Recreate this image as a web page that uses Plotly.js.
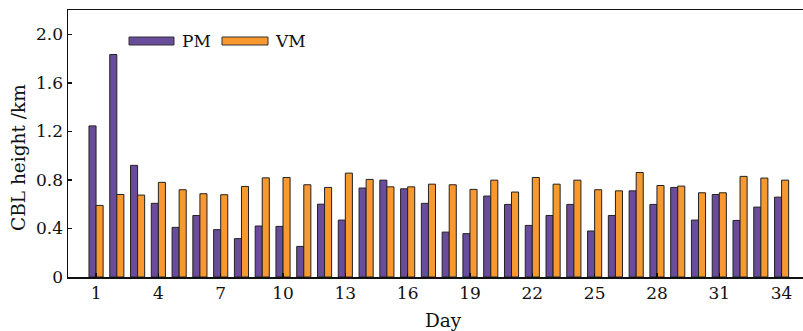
<!DOCTYPE html>
<html>
<head>
<meta charset="utf-8">
<script src="https://cdn.plot.ly/plotly-3.0.1.min.js"></script>
<style>html,body{margin:0;padding:0;background:#fff;}#chart{width:803px;height:331px;}</style>
</head>
<body>
<div id="chart"></div>
<script>
const days = Array.from({length: 34}, (_, i) => i + 1);
const pmValues = [1.245, 1.833, 0.92, 0.607, 0.409, 0.507, 0.39, 0.316, 0.42, 0.417,
  0.252, 0.60, 0.469, 0.733, 0.798, 0.727, 0.607, 0.37, 0.357, 0.667,
  0.598, 0.425, 0.507, 0.598, 0.379, 0.507, 0.71, 0.598, 0.738, 0.469,
  0.68, 0.466, 0.576, 0.658];
const vmValues = [0.59, 0.68, 0.675, 0.78, 0.719, 0.686, 0.678, 0.746, 0.817, 0.82,
  0.76, 0.738, 0.856, 0.804, 0.743, 0.743, 0.765, 0.76, 0.722, 0.798,
  0.70, 0.82, 0.765, 0.798, 0.719, 0.71, 0.861, 0.754, 0.749, 0.694,
  0.694, 0.829, 0.815, 0.798];
const xTickVals = [1, 4, 7, 10, 13, 16, 19, 22, 25, 28, 31, 34];
const yTickVals = [0, 0.4, 0.8, 1.2, 1.6, 2.0];
const yTickText = ['0', '0.4', '0.8', '1.2', '1.6', '2.0'];
const seriesNames = ['PM', 'VM'];
const xTitle = 'Day';
const yTitle = 'CBL height /km';

const pmColor = '#6a4c9c';
const vmColor = '#f7992f';
const fam = '"DejaVu Serif", serif';
const tickFont = {family: fam, size: 17, color: '#111'};
const titleFont = {family: fam, size: 18.5, color: '#111'};
const legFont = {family: fam, size: 17, color: '#111'};

const traces = [
  {type: 'bar', name: seriesNames[0], x: days, y: pmValues,
   marker: {color: pmColor, line: {color: '#222', width: 1}}},
  {type: 'bar', name: seriesNames[1], x: days, y: vmValues,
   marker: {color: vmColor, line: {color: '#222', width: 1}}}
];

const L = 68, T = 10, W = 735, H = 267;
const px = x => (x - L) / W;
const py = y => (T + H - y) / H;

const layout = {
  width: 803, height: 331,
  margin: {l: L, r: 0, t: T, b: 331 - T - H},
  paper_bgcolor: '#fff', plot_bgcolor: '#fff',
  font: tickFont,
  showlegend: false,
  barmode: 'group', bargap: 0.32, bargroupgap: 0,
  xaxis: {
    range: [-0.35, 35.03], tickvals: xTickVals,
    ticks: 'inside', ticklen: 4, tickwidth: 1.5, tickcolor: '#111',
    showline: true, linecolor: '#111', linewidth: 1.5, mirror: true,
    showgrid: false, zeroline: false,
    tickfont: tickFont
  },
  yaxis: {
    range: [0, 2.2], tickvals: yTickVals, ticktext: yTickText,
    ticks: 'inside', ticklen: 4, tickwidth: 1.5, tickcolor: '#111',
    showline: true, linecolor: '#111', linewidth: 1.5,
    showgrid: false, zeroline: false,
    tickfont: tickFont
  },
  shapes: [
    {type: 'rect', xref: 'paper', yref: 'paper',
     x0: px(129), x1: px(174), y0: py(45), y1: py(37),
     fillcolor: pmColor, line: {color: '#333', width: 1}},
    {type: 'rect', xref: 'paper', yref: 'paper',
     x0: px(222), x1: px(268), y0: py(45), y1: py(37),
     fillcolor: vmColor, line: {color: '#333', width: 1}}
  ],
  annotations: [
    {xref: 'paper', yref: 'paper', x: px(180), y: py(41),
     xanchor: 'left', yanchor: 'middle', text: seriesNames[0], showarrow: false, font: legFont},
    {xref: 'paper', yref: 'paper', x: px(273), y: py(41),
     xanchor: 'left', yanchor: 'middle', text: seriesNames[1], showarrow: false, font: legFont},
    {xref: 'paper', yref: 'paper', x: px(443), y: py(320),
     xanchor: 'center', yanchor: 'middle', text: xTitle, showarrow: false, font: titleFont},
    {xref: 'paper', yref: 'paper', x: px(18), y: py(157),
     xanchor: 'center', yanchor: 'middle', textangle: -90, text: yTitle, showarrow: false, font: titleFont}
  ]
};

Plotly.newPlot('chart', traces, layout, {displayModeBar: false, staticPlot: true});
</script>
</body>
</html>
